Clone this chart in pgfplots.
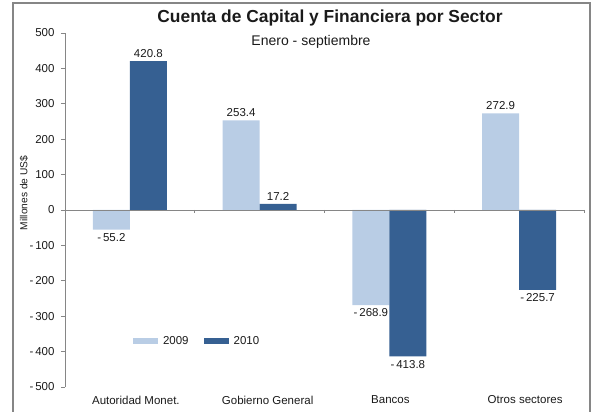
\documentclass[border=0pt]{standalone}
\usepackage{fontspec}
\setmainfont{Liberation Sans}
\usepackage{pgfplots}
\pgfplotsset{compat=1.18}
\definecolor{c09}{HTML}{B9CDE5}
\definecolor{c10}{HTML}{366092}
\definecolor{axgray}{HTML}{868686}
\definecolor{txt}{HTML}{1A1A1A}
\begin{document}
\begin{tikzpicture}[x=1bp,y=1bp]
\begin{axis}[
  at={(65bp,25bp)}, anchor=south west,
  scale only axis, width=519bp, height=354bp,
  xmin=-0.5, xmax=3.5, ymin=-500, ymax=500,
  axis x line=none,
  axis y line*=left,
  y axis line style={axgray, line width=0.8bp, -},
  ytick={-500,-400,...,500},
  yticklabels={-\,500,-\,400,-\,300,-\,200,-\,100,0,100,200,300,400,500},
  tick align=outside,
  major tick length=4bp,
  ytick style={axgray, line width=0.8bp},
  yticklabel style={font=\fontsize{11.5bp}{13bp}\selectfont, text=txt, xshift=-3bp},
  ybar=0pt, bar width=0.285,
  nodes near coords,
  point meta=explicit symbolic,
  visualization depends on={rawy \as \rawy},
  every node near coord/.append style={font=\fontsize{11.5bp}{13bp}\selectfont, text=txt},
  every node near coord/.append code={\ifdim\rawy pt<0pt \pgfkeysalso{anchor=north}\else\pgfkeysalso{anchor=south}\fi},
  legend columns=2,
  legend style={draw=none, fill=none, at={(rel axis cs:0.125,0.13)}, anchor=west,
    font=\fontsize{11.5bp}{13bp}\selectfont, text=txt,
    /tikz/every odd column/.append style={column sep=3bp},
    /tikz/every even column/.append style={column sep=13bp}},
  legend image code/.code={\fill[#1] (0bp,-3bp) rectangle (25bp,3bp);},
  clip=false,
]
\addplot[fill=c09, draw=none] coordinates {
  (0,-55.2) [-\,55.2]
  (1,253.4) [253.4]
  (2,-268.9) [-\,268.9]
  (3,272.9) [272.9]
};
\addplot[fill=c10, draw=none] coordinates {
  (0,420.8) [420.8]
  (1,17.2) [17.2]
  (2,-413.8) [-\,413.8]
  (3,-225.7) [-\,225.7]
};
\legend{2009,2010}
\draw[axgray, line width=0.8bp] (axis cs:-0.5,0) -- (axis cs:3.5,0);
\draw[axgray, line width=0.8bp] (axis cs:0.5,0) -- ++(0bp,-3bp);
\draw[axgray, line width=0.8bp] (axis cs:1.5,0) -- ++(0bp,-3bp);
\draw[axgray, line width=0.8bp] (axis cs:2.5,0) -- ++(0bp,-3bp);
\draw[axgray, line width=0.8bp] (axis cs:3.5,0) -- ++(0bp,-3bp);
\node[font=\fontsize{11.5bp}{13bp}\selectfont, text=txt, yshift=-13bp, xshift=6bp] at (axis cs:0,-500) {Autoridad Monet.};
\node[font=\fontsize{11.5bp}{13bp}\selectfont, text=txt, yshift=-13bp, xshift=8bp] at (axis cs:1,-500) {Gobierno General};
\node[font=\fontsize{11.5bp}{13bp}\selectfont, text=txt, yshift=-13bp, xshift=1bp] at (axis cs:2,-500) {Bancos};
\node[font=\fontsize{11.5bp}{13bp}\selectfont, text=txt, yshift=-13bp, xshift=6bp] at (axis cs:3,-500) {Otros sectores};
\end{axis}
\node[font=\fontsize{17.4bp}{20bp}\selectfont\bfseries, text=txt] at (330bp,394bp) {Cuenta de Capital y Financiera por Sector};
\node[font=\fontsize{14bp}{16bp}\selectfont, text=txt] at (311bp,370bp) {Enero - septiembre};
\node[font=\fontsize{10.2bp}{12bp}\selectfont, text=txt, rotate=90] at (24bp,219bp) {Millones de US\$};
\draw[axgray, line width=1.2bp] (13bp,-10bp) -- (13bp,409bp) -- (590bp,409bp) -- (590bp,-10bp);
\pgfresetboundingbox
\path[use as bounding box] (0,0) rectangle (597bp,412bp);
\end{tikzpicture}
\end{document}
